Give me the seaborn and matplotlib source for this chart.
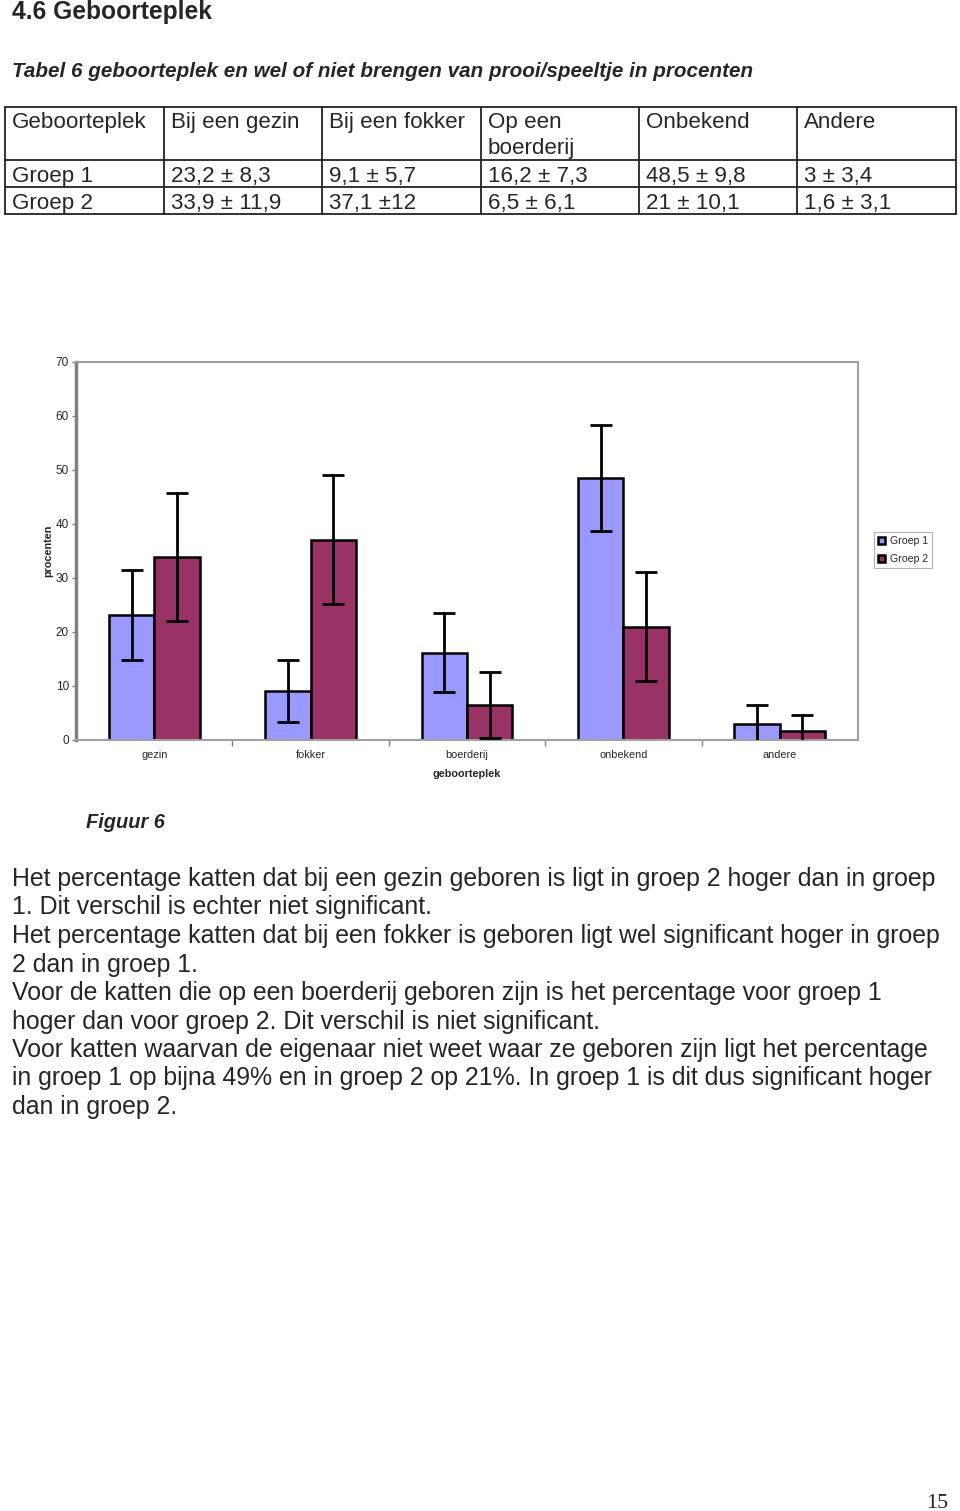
import matplotlib
matplotlib.use("Agg")
import matplotlib.pyplot as plt
import seaborn as sns
import pandas as pd
import numpy as np
from matplotlib.lines import Line2D

# ---------------- data ----------------
categories = ["gezin", "fokker", "boerderij", "onbekend", "andere"]
groups = ["Groep 1", "Groep 2"]
means_g1 = [23.2, 9.1, 16.2, 48.5, 3.0]
sd_g1 = [8.3, 5.7, 7.3, 9.8, 3.4]
means_g2 = [33.9, 37.1, 6.5, 21.0, 1.6]
sd_g2 = [11.9, 12.0, 6.1, 10.1, 3.1]
y_ticks = [0, 10, 20, 30, 40, 50, 60, 70]

table_header = ["Geboorteplek", "Bij een gezin", "Bij een fokker", "Op een\nboerderij", "Onbekend", "Andere"]
table_row1 = ["Groep 1", "23,2 ± 8,3", "9,1 ± 5,7", "16,2 ± 7,3", "48,5 ± 9,8", "3 ± 3,4"]
table_row2 = ["Groep 2", "33,9 ± 11,9", "37,1 ±12", "6,5 ± 6,1", "21 ± 10,1", "1,6 ± 3,1"]

title = "4.6 Geboorteplek"
table_caption = "Tabel 6 geboorteplek en wel of niet brengen van prooi/speeltje in procenten"
fig_caption = "Figuur 6"
body_lines = [
    "Het percentage katten dat bij een gezin geboren is ligt in groep 2 hoger dan in groep",
    "1. Dit verschil is echter niet significant.",
    "Het percentage katten dat bij een fokker is geboren ligt wel significant hoger in groep",
    "2 dan in groep 1.",
    "Voor de katten die op een boerderij geboren zijn is het percentage voor groep 1",
    "hoger dan voor groep 2. Dit verschil is niet significant.",
    "Voor katten waarvan de eigenaar niet weet waar ze geboren zijn ligt het percentage",
    "in groep 1 op bijna 49% en in groep 2 op 21%. In groep 1 is dit dus significant hoger",
    "dan in groep 2.",
]
page_number = "15"

# ---------------- setup ----------------
sns.set_theme(style="white")
plt.rcParams["font.family"] = ["Liberation Sans", "DejaVu Sans"]

W, H = 960, 1511
fig = plt.figure(figsize=(W / 100, H / 100), dpi=100)
fig.patch.set_facecolor("white")


def fy(py):
    return 1 - py / H


def fx(px):
    return px / W


def ftext(px, py, s, **kw):
    fig.text(fx(px), fy(py), s, **kw)


# ---------------- header text ----------------
ftext(12, 19, title, fontsize=17.7, fontweight="bold", va="baseline", ha="left")
ftext(12, 77, table_caption, fontsize=14.9, fontweight="bold", fontstyle="italic",
      va="baseline", ha="left")

# ---------------- table ----------------
col_x = [5, 164, 322, 481, 639, 797, 956]
row_y = [107, 160, 187, 214]
lc = "#222222"
for x in col_x:
    fig.add_artist(Line2D([fx(x), fx(x)], [fy(row_y[0]), fy(row_y[-1])],
                          color=lc, lw=1.3, transform=fig.transFigure))
for y in row_y:
    fig.add_artist(Line2D([fx(col_x[0]), fx(col_x[-1])], [fy(y), fy(y)],
                          color=lc, lw=1.3, transform=fig.transFigure))

tsize = 16.1
for i, s in enumerate(table_header):
    parts = s.split("\n")
    for j, p in enumerate(parts):
        ftext(col_x[i] + 7, 128 + 26 * j, p, fontsize=tsize, va="baseline", ha="left")
for i, s in enumerate(table_row1):
    ftext(col_x[i] + 7, 182, s, fontsize=tsize, va="baseline", ha="left")
for i, s in enumerate(table_row2):
    ftext(col_x[i] + 7, 209, s, fontsize=tsize, va="baseline", ha="left")

# ---------------- chart ----------------
ax_left, ax_right, ax_top, ax_bottom = 76, 858, 362, 740
ax = fig.add_axes([fx(ax_left), fy(ax_bottom), fx(ax_right - ax_left),
                   (ax_bottom - ax_top) / H])

df = pd.DataFrame({
    "geboorteplek": categories * 2,
    "groep": [groups[0]] * len(categories) + [groups[1]] * len(categories),
    "procenten": means_g1 + means_g2,
    "sd": sd_g1 + sd_g2,
})

palette = {"Groep 1": "#9999FF", "Groep 2": "#993366"}
sns.barplot(data=df, x="geboorteplek", y="procenten", hue="groep", order=categories,
            hue_order=groups, palette=palette, width=0.58, errorbar=None,
            edgecolor="black", linewidth=1.8, saturation=1, ax=ax, zorder=2)

# error bars at bar centres
bars = [p for p in ax.patches if p.get_width() > 0 and p.get_height() >= 0][:2 * len(categories)]
centers = [b.get_x() + b.get_width() / 2 for b in bars]
heights = [b.get_height() for b in bars]
sds = sd_g1 + sd_g2
ax.errorbar(centers, heights, yerr=sds, fmt="none", ecolor="black", elinewidth=2,
            capsize=8, capthick=2, zorder=3)

ax.set_ylim(0, 70)
ax.set_xlim(-0.5, len(categories) - 0.5)
ax.set_yticks(y_ticks)
ax.set_yticklabels([str(t) for t in y_ticks], fontsize=8.5)
ax.tick_params(axis="y", direction="out", length=3, width=1, color="#808080", pad=2, left=True)
ax.set_xticks(range(len(categories)))
ax.set_xticklabels(categories, fontsize=7.8)
ax.tick_params(axis="x", which="major", length=0, pad=7)
ax.set_xticks(np.arange(0.5, len(categories) - 0.5, 1), minor=True)
ax.tick_params(axis="x", which="minor", direction="out", length=4, width=1,
               color="#808080", bottom=True)
ax.set_xlabel("geboorteplek", fontsize=7.8, fontweight="bold", labelpad=7)
ax.set_ylabel("procenten", fontsize=7.8, fontweight="bold", labelpad=2)

for side in ["top", "right", "bottom"]:
    ax.spines[side].set_visible(True)
    ax.spines[side].set_color("#a0a0a0")
    ax.spines[side].set_linewidth(1.5)
ax.spines["left"].set_visible(True)
ax.spines["left"].set_color("#808080")
ax.spines["left"].set_linewidth(2.5)
ax.grid(False)
ax.set_facecolor("white")

# legend
handles, labels = ax.get_legend_handles_labels()
leg = ax.legend(handles, labels, loc="upper left",
                bbox_to_anchor=(fx(874), fy(532)), bbox_transform=fig.transFigure,
                fontsize=7.6, frameon=True, fancybox=False, handlelength=0.6,
                handleheight=0.6, handletextpad=0.5, borderpad=0.4,
                labelspacing=0.75, borderaxespad=0)
leg.get_frame().set_edgecolor("#a0a0a0")
leg.get_frame().set_linewidth(0.8)

# ---------------- captions / body ----------------
ftext(86, 828, fig_caption, fontsize=14.4, fontweight="bold", fontstyle="italic",
      va="baseline", ha="left")
for i, line in enumerate(body_lines):
    ftext(12, 886 + 28.5 * i, line, fontsize=17.95, va="baseline", ha="left")

fig.text(fx(948), fy(1508), page_number, fontsize=16, va="baseline", ha="right",
         family=["Liberation Serif", "DejaVu Serif"])

fig.savefig("out.png", dpi=100, facecolor="white")
